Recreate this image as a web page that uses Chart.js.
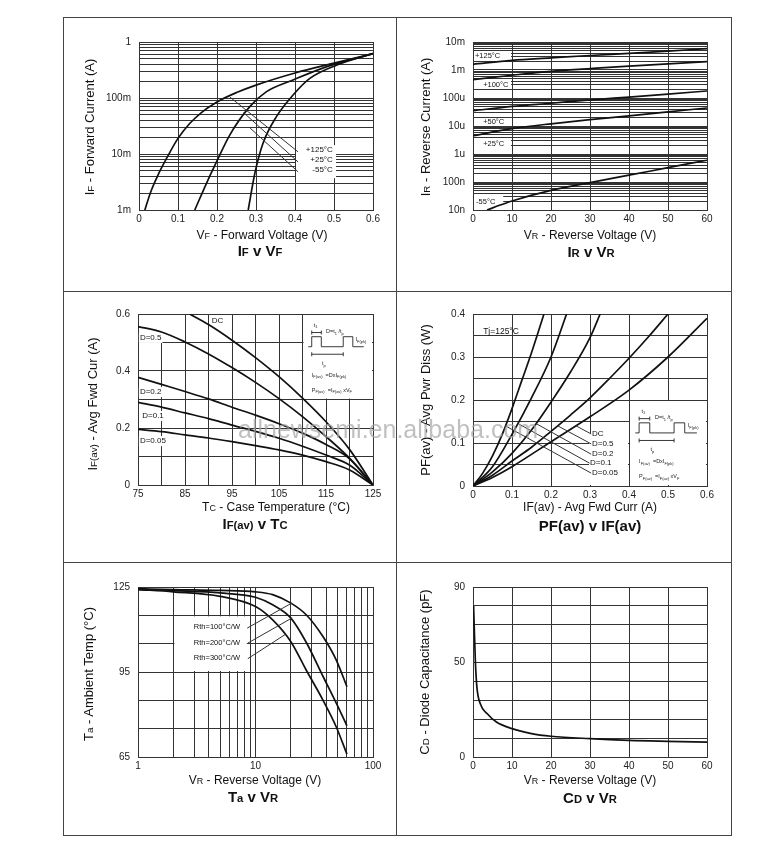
<!DOCTYPE html>
<html>
<head>
<meta charset="utf-8">
<script src="https://cdn.jsdelivr.net/npm/chart.js@4.4.1/dist/chart.umd.min.js"></script>
<style>
  body { margin: 0; background: #fff; font-family: 'Liberation Sans', Arial, sans-serif; color: #111; }
  #page { position: relative; width: 776px; height: 856px; overflow: hidden; }
  .frame { position: absolute; left: 63px; top: 17px; width: 667px; height: 817px; border: 1px solid #444; }
  .hl { position: absolute; left: 63px; width: 669px; height: 1px; background: #444; }
  .vl { position: absolute; top: 17px; width: 1px; height: 819px; background: #444; }
  canvas { position: absolute; }
  .yt, .xt, .cap { position: absolute; white-space: nowrap; line-height: 1; color: #111; }
  .yt { font-size: 13px; transform: translate(-50%, -50%) rotate(-90deg); }
  .xt { font-size: 12px; transform: translate(-50%, -50%); }
  .cap { font-size: 15px; font-weight: bold; transform: translate(-50%, -50%); }
  .s { font-size: 0.75em; }
  .wm { position: absolute; left: 238px; top: 417px; font-size: 25px; line-height: 25px; color: rgba(165,165,165,0.7); white-space: nowrap; }
</style>
</head>
<body>
<div id="page">
  <div class="frame"></div>
  <div class="vl" style="left:396px"></div>
  <div class="hl" style="top:291px"></div>
  <div class="hl" style="top:562px"></div>

  <canvas id="c1"></canvas>
  <canvas id="c2"></canvas>
  <canvas id="c3"></canvas>
  <canvas id="c4"></canvas>
  <canvas id="c5"></canvas>
  <canvas id="c6"></canvas>

  <div class="yt" style="left:89px;top:127px">I<span class="s">F</span> - Forward Current (A)</div>
  <div class="xt" style="left:262px;top:235px">V<span class="s">F</span> - Forward Voltage (V)</div>
  <div class="cap" style="left:260px;top:251px">I<span class="s">F</span> v V<span class="s">F</span></div>

  <div class="yt" style="left:425px;top:127px">I<span class="s">R</span> - Reverse Current (A)</div>
  <div class="xt" style="left:590px;top:235px">V<span class="s">R</span> - Reverse Voltage (V)</div>
  <div class="cap" style="left:591px;top:252px">I<span class="s">R</span> v V<span class="s">R</span></div>

  <div class="yt" style="left:92px;top:404px">I<span class="s">F(av)</span> - Avg Fwd Cur (A)</div>
  <div class="xt" style="left:276px;top:507px">T<span class="s">C</span> - Case Temperature (°C)</div>
  <div class="cap" style="left:255px;top:524px">I<span class="s">F(av)</span> v T<span class="s">C</span></div>

  <div class="yt" style="left:425px;top:400px">PF(av) - Avg Pwr Diss (W)</div>
  <div class="xt" style="left:590px;top:507px">IF(av) - Avg Fwd Curr (A)</div>
  <div class="cap" style="left:590px;top:525px">PF(av) v IF(av)</div>

  <div class="yt" style="left:88px;top:674px">T<span class="s">a</span> - Ambient Temp (°C)</div>
  <div class="xt" style="left:255px;top:780px">V<span class="s">R</span> - Reverse Voltage (V)</div>
  <div class="cap" style="left:253px;top:797px">T<span class="s">a</span> v V<span class="s">R</span></div>

  <div class="yt" style="left:424px;top:672px">C<span class="s">D</span> - Diode Capacitance (pF)</div>
  <div class="xt" style="left:590px;top:780px">V<span class="s">R</span> - Reverse Voltage (V)</div>
  <div class="cap" style="left:590px;top:798px">C<span class="s">D</span> v V<span class="s">R</span></div>

  <div class="wm">allnewsemi.en.alibaba.com</div>
</div>

<script>
// ---- IF v VF (forward current vs forward voltage, 3 temperatures)
const vf125 = [0.015, 0.03, 0.05, 0.075, 0.10, 0.13, 0.16, 0.20, 0.25, 0.30, 0.40, 0.50, 0.60];
const if125 = [0.001, 0.0021, 0.0044, 0.0095, 0.019, 0.035, 0.055, 0.085, 0.125, 0.17, 0.28, 0.42, 0.62];
const vf25 = [0.143, 0.173, 0.199, 0.233, 0.284, 0.327, 0.395, 0.48, 0.60];
const if25 = [0.001, 0.003, 0.0073, 0.022, 0.070, 0.13, 0.21, 0.36, 0.62];
const vfM55 = [0.28, 0.297, 0.318, 0.352, 0.395, 0.438, 0.506, 0.60];
const ifM55 = [0.001, 0.0045, 0.0155, 0.046, 0.113, 0.224, 0.385, 0.62];
const vfTicks = [0, 0.1, 0.2, 0.3, 0.4, 0.5, 0.6];
const vfLabels = ['0', '0.1', '0.2', '0.3', '0.4', '0.5', '0.6'];
const ifTicks = [0.001, 0.01, 0.1, 1];
const ifLabels = ['1m', '10m', '100m', '1'];

// ---- IR v VR (reverse current vs reverse voltage)
const vrIR = [0, 10, 20, 30, 40, 50, 60];
const ir125 = [1.6e-3, 2.2e-3, 2.7e-3, 3.3e-3, 3.9e-3, 4.7e-3, 5.8e-3];
const ir100 = [4.5e-4, 6.5e-4, 9e-4, 1.12e-3, 1.38e-3, 1.65e-3, 2.0e-3];
const ir50 = [3.5e-5, 5e-5, 6.5e-5, 8.5e-5, 1.08e-4, 1.38e-4, 1.78e-4];
const ir25 = [4.5e-6, 8e-6, 1.2e-5, 1.7e-5, 2.3e-5, 3.2e-5, 4.4e-5];
const vrM55 = [3.6, 7, 10, 20, 30, 40, 50, 60];
const irM55 = [1e-8, 1.5e-8, 2.1e-8, 5e-8, 9.5e-8, 1.75e-7, 3.25e-7, 6e-7];
const vr60Ticks = [0, 10, 20, 30, 40, 50, 60];
const vr60Labels = ['0', '10', '20', '30', '40', '50', '60'];
const irTicks = [1e-8, 1e-7, 1e-6, 1e-5, 1e-4, 1e-3, 1e-2];
const irLabels = ['10n', '100n', '1u', '10u', '100u', '1m', '10m'];

// ---- IF(av) v TC (derating)
const tcDC = [86, 90, 95, 100, 105, 110, 115, 120, 125];
const ifavDC = [0.6, 0.563, 0.508, 0.447, 0.38, 0.305, 0.222, 0.125, 0];
const tcD = [75, 80, 85, 90, 95, 100, 105, 110, 115, 120, 125];
const ifavD05 = [0.556, 0.537, 0.502, 0.46, 0.412, 0.36, 0.303, 0.24, 0.17, 0.094, 0];
const ifavD02 = [0.378, 0.353, 0.328, 0.302, 0.273, 0.245, 0.215, 0.182, 0.142, 0.092, 0];
const ifavD01 = [0.29, 0.273, 0.253, 0.233, 0.21, 0.188, 0.164, 0.136, 0.105, 0.07, 0];
const ifavD005 = [0.195, 0.187, 0.176, 0.165, 0.152, 0.138, 0.123, 0.105, 0.082, 0.053, 0];
const tcTicks = [75, 85, 95, 105, 115, 125];
const tcLabels = ['75', '85', '95', '105', '115', '125'];
const ifavTicks = [0, 0.2, 0.4, 0.6];
const ifavLabels = ['0', '0.2', '0.4', '0.6'];

// ---- PF(av) v IF(av) (power dissipation)
const iDC = [0, 0.05, 0.1, 0.2, 0.3, 0.4, 0.5, 0.6];
const pDC = [0, 0.02, 0.045, 0.103, 0.161, 0.223, 0.3, 0.39];
const iD05 = [0, 0.05, 0.1, 0.15, 0.2, 0.25, 0.3, 0.35, 0.4, 0.45, 0.5];
const pD05 = [0, 0.025, 0.058, 0.09, 0.127, 0.165, 0.205, 0.25, 0.297, 0.347, 0.4];
const iD02 = [0, 0.05, 0.1, 0.15, 0.2, 0.25, 0.3, 0.326];
const pD02 = [0, 0.033, 0.076, 0.13, 0.195, 0.265, 0.345, 0.4];
const iD01 = [0, 0.05, 0.1, 0.15, 0.2, 0.24];
const pD01 = [0, 0.045, 0.12, 0.205, 0.3, 0.4];
const iD005 = [0, 0.025, 0.05, 0.075, 0.1, 0.125, 0.15, 0.182];
const pD005 = [0, 0.03, 0.07, 0.12, 0.18, 0.245, 0.31, 0.4];
const pfTicks = [0, 0.1, 0.2, 0.3, 0.4];
const pfLabels = ['0', '0.1', '0.2', '0.3', '0.4'];

// ---- Ta v VR (ambient temperature vs reverse voltage)
const vrTa = [1, 2, 5, 10, 14, 20, 27, 37.5, 48.7, 60];
const ta100 = [124.4, 124.1, 123.8, 123.3, 122.3, 119.3, 115.2, 107.5, 99.2, 89.8];
const ta200 = [124.2, 123.7, 122.9, 121.4, 118.7, 114, 105.5, 93.5, 84, 76];
const ta300 = [124.1, 123.3, 121.7, 118.1, 113.4, 105.7, 95.7, 85.1, 75.6, 66];
const vrLogTicks = [1, 10, 100];
const vrLogLabels = ['1', '10', '100'];
const taTicks = [65, 95, 125];
const taLabels = ['65', '95', '125'];

// ---- CD v VR (capacitance)
const vrCd = [0.15, 0.3, 0.6, 1, 1.9, 3.6, 6, 10, 15, 20, 30, 40, 50, 60];
const cdPf = [80, 70, 51, 37, 28, 23, 18.5, 15, 12.4, 11, 9.7, 8.8, 8.3, 7.9];
const cdTicks = [0, 50, 90];
const cdLabels = ['0', '50', '90'];

const FONT = "'Liberation Sans', Arial, sans-serif";
const GRID = '#333';
const YW = 36, XH = 18;
Chart.defaults.font.family = FONT;

// grid helpers (1..9 per decade for log axes, fixed step for linear ones)
function logGrid(e0, e1) {
  const out = [];
  for (let e = e0; e < e1; e++)
    for (let m = 1; m < 10; m++) out.push(+(m * Math.pow(10, e)).toPrecision(3));
  out.push(+Math.pow(10, e1).toPrecision(3));
  return out;
}
function steps(a, b, d) {
  const out = [], n = Math.round((b - a) / d);
  for (let i = 0; i <= n; i++) out.push(+(a + i * d).toFixed(6));
  return out;
}

function axis(o) {
  return {
    type: o.type || 'linear', min: o.min, max: o.max,
    position: o.y ? 'left' : 'bottom',
    afterBuildTicks: s => { s.ticks = o.grid.map(v => ({ value: v })); },
    afterFit: s => { if (o.y) s.width = YW; else s.height = XH; },
    grid: { color: GRID, lineWidth: 1, drawTicks: false },
    border: { color: GRID, width: 1 },
    ticks: {
      autoSkip: false, maxRotation: 0, minRotation: 0,
      padding: o.y ? 8 : 3, color: '#222', font: { family: FONT, size: 10 },
      callback: v => {
        const i = o.ticks.findIndex(t => t === v || Math.abs(t - v) <= 1e-6 * Math.abs(t));
        return i < 0 ? '' : o.labels[i];
      }
    }
  };
}

function curve(xs, ys) {
  return {
    data: xs.map((x, i) => ({ x, y: ys[i] })),
    showLine: true, pointRadius: 0, borderColor: '#111', borderWidth: 1.7,
    fill: false, cubicInterpolationMode: 'monotone'
  };
}

// small mixed-size text for the pulse insets
function rich(ctx, x, y, parts, size) {
  parts.forEach(([t, sub]) => {
    ctx.font = (sub ? size * 0.72 : size) + 'px ' + FONT;
    ctx.fillText(t, x, y + (sub ? size * 0.3 : 0));
    x += ctx.measureText(t).width;
  });
}

function drawPulse(ctx, r) {
  const X = f => r.x + f * r.w, Y = f => r.y + f * r.h;
  ctx.strokeStyle = '#222'; ctx.fillStyle = '#222'; ctx.lineWidth = 0.9;
  ctx.textAlign = 'left'; ctx.textBaseline = 'alphabetic';
  const wave = [[.07,.38],[.12,.38],[.12,.26],[.26,.26],[.26,.38],[.58,.38],[.58,.26],[.72,.26],[.72,.38],[.88,.38]];
  ctx.beginPath();
  wave.forEach(([a, b], i) => i ? ctx.lineTo(X(a), Y(b)) : ctx.moveTo(X(a), Y(b)));
  ctx.stroke();
  const bracket = (a, b, c) => {
    ctx.beginPath();
    ctx.moveTo(X(a), Y(c)); ctx.lineTo(X(b), Y(c));
    ctx.moveTo(X(a), Y(c) - 2); ctx.lineTo(X(a), Y(c) + 2);
    ctx.moveTo(X(b), Y(c) - 2); ctx.lineTo(X(b), Y(c) + 2);
    ctx.stroke();
  };
  bracket(.12, .26, .21);
  bracket(.12, .58, .47);
  const fs = 5.5;
  rich(ctx, X(.15), Y(.14), [['t'], ['1', 1]], fs);
  rich(ctx, X(.33), Y(.22), [['D=t'], ['1', 1], [' /t'], ['p', 1]], fs);
  rich(ctx, X(.76), Y(.31), [['I'], ['F(pk)', 1]], fs);
  rich(ctx, X(.27), Y(.6), [['t'], ['p', 1]], fs);
  rich(ctx, X(.12), Y(.74), [['I'], ['F(av)', 1], ['  =DxI'], ['F(pk)', 1]], fs);
  rich(ctx, X(.12), Y(.92), [['P'], ['F(av)', 1], ['  =I'], ['F(av)', 1], [' xV'], ['F', 1]], fs);
}

// labels, leader lines and white boxes placed in data units
function notesPlugin(n) {
  const rect = (chart, b) => {
    const px = v => chart.scales.x.getPixelForValue(v), py = v => chart.scales.y.getPixelForValue(v);
    const ins = b.in || [1, 1, 1, 1];
    const x0 = px(b.x[0]) + ins[0], x1 = px(b.x[1]) - ins[2];
    const y0 = py(b.y[1]) + ins[1], y1 = py(b.y[0]) - ins[3];
    return { x: x0, y: y0, w: x1 - x0, h: y1 - y0 };
  };
  return {
    id: 'notes',
    beforeDatasetsDraw(chart) {
      const { ctx } = chart;
      const px = v => chart.scales.x.getPixelForValue(v), py = v => chart.scales.y.getPixelForValue(v);
      ctx.save();
      ctx.fillStyle = '#fff';
      (n.boxes || []).concat(n.insets || []).forEach(b => {
        const r = rect(chart, b);
        ctx.fillRect(r.x, r.y, r.w, r.h);
      });
      (n.labels || []).filter(l => l.bg).forEach(l => {
        ctx.font = (l.size || 8) + 'px ' + FONT;
        const w = ctx.measureText(l.t).width, h = (l.size || 8) + 2;
        const x = l.align === 'right' ? px(l.x) - w : px(l.x);
        ctx.fillRect(x - 1, py(l.y) - h / 2, w + 2, h);
      });
      (n.insets || []).forEach(b => drawPulse(ctx, rect(chart, b)));
      ctx.restore();
    },
    afterDatasetsDraw(chart) {
      const { ctx } = chart;
      const px = v => chart.scales.x.getPixelForValue(v), py = v => chart.scales.y.getPixelForValue(v);
      ctx.save();
      ctx.strokeStyle = '#333'; ctx.lineWidth = 1;
      (n.leaders || []).forEach(([a, b]) => {
        ctx.beginPath();
        ctx.moveTo(px(a[0]), py(a[1]));
        ctx.lineTo(px(b[0]), py(b[1]));
        ctx.stroke();
      });
      ctx.fillStyle = '#111'; ctx.textBaseline = 'middle';
      (n.labels || []).forEach(l => {
        ctx.font = (l.size || 8) + 'px ' + FONT;
        ctx.textAlign = l.align || 'left';
        ctx.fillText(l.t, px(l.x), py(l.y));
      });
      ctx.restore();
    }
  };
}

function panel(id, cell, plot, xAx, yAx, series, notes) {
  const cv = document.getElementById(id);
  const [cx, cy, cw, ch] = cell, [L, T, R, B] = plot;
  cv.width = cw; cv.height = ch;
  cv.style.left = cx + 'px'; cv.style.top = cy + 'px';
  return new Chart(cv, {
    type: 'scatter',
    data: { datasets: series.map(([xs, ys]) => curve(xs, ys)) },
    options: {
      responsive: false, animation: false, events: [],
      layout: { padding: { left: L - cx - YW, top: T - cy, right: cx + cw - R, bottom: cy + ch - B - XH } },
      plugins: { legend: { display: false }, tooltip: { enabled: false } },
      scales: { x: axis(xAx), y: axis(Object.assign({ y: true }, yAx)) }
    },
    plugins: [notesPlugin(notes || {})]
  });
}

// IF v VF
panel('c1', [64, 18, 332, 273], [139, 42, 373, 210],
  { min: 0, max: 0.6, grid: steps(0, 0.6, 0.1), ticks: vfTicks, labels: vfLabels },
  { type: 'logarithmic', min: 0.001, max: 1, grid: logGrid(-3, 0), ticks: ifTicks, labels: ifLabels },
  [[vf125, if125], [vf25, if25], [vfM55, ifM55]],
  {
    boxes: [{ x: [0.4, 0.5], y: [0.0037, 0.0144], in: [1, 0, -2, 0] }],
    leaders: [[[0.233, 0.104], [0.408, 0.0109]], [[0.268, 0.055], [0.408, 0.0072]], [[0.285, 0.029], [0.408, 0.0048]]],
    labels: [
      { t: '+125°C', x: 0.497, y: 0.0118, align: 'right' },
      { t: '+25°C', x: 0.497, y: 0.0078, align: 'right' },
      { t: '-55°C', x: 0.497, y: 0.0052, align: 'right' }
    ]
  });

// IR v VR
panel('c2', [397, 18, 334, 273], [473, 42, 707, 210],
  { min: 0, max: 60, grid: steps(0, 60, 10), ticks: vr60Ticks, labels: vr60Labels },
  { type: 'logarithmic', min: 1e-8, max: 1e-2, grid: logGrid(-8, -2), ticks: irTicks, labels: irLabels },
  [[vrIR, ir125], [vrIR, ir100], [vrIR, ir50], [vrIR, ir25], [vrM55, irM55]],
  {
    boxes: [
      { x: [0, 10], y: [2.09e-3, 4.78e-3] },
      { x: [0, 10], y: [1.93e-4, 4.4e-4] },
      { x: [0, 10], y: [9.2e-6, 2.09e-5] },
      { x: [0, 10], y: [1.64e-6, 3.43e-6] },
      { x: [0, 8], y: [1.18e-8, 3.43e-8] }
    ],
    labels: [
      { t: '+125°C', x: 0.5, y: 3.16e-3, size: 7.5 },
      { t: '+100°C', x: 2.6, y: 2.91e-4, size: 7.5 },
      { t: '+50°C', x: 2.6, y: 1.39e-5, size: 7.5 },
      { t: '+25°C', x: 2.6, y: 2.28e-6, size: 7.5 },
      { t: '-55°C', x: 0.8, y: 1.93e-8, size: 7.5 }
    ]
  });

// IF(av) v TC
panel('c3', [64, 292, 332, 270], [138, 314, 373, 485],
  { min: 75, max: 125, grid: steps(75, 125, 5), ticks: tcTicks, labels: tcLabels },
  { min: 0, max: 0.6, grid: steps(0, 0.6, 0.1), ticks: ifavTicks, labels: ifavLabels },
  [[tcDC, ifavDC], [tcD, ifavD05], [tcD, ifavD02], [tcD, ifavD01], [tcD, ifavD005]],
  {
    boxes: [{ x: [75, 85], y: [0.5, 0.6] }],
    insets: [{ x: [110, 125], y: [0.3, 0.6] }],
    labels: [
      { t: 'DC', x: 90.7, y: 0.575, bg: true },
      { t: 'D=0.5', x: 75.4, y: 0.516, bg: true },
      { t: 'D=0.2', x: 75.4, y: 0.326, bg: true },
      { t: 'D=0.1', x: 75.9, y: 0.242, bg: true },
      { t: 'D=0.05', x: 75.4, y: 0.154, bg: true }
    ]
  });

// PF(av) v IF(av)
panel('c4', [397, 292, 334, 270], [473, 314, 707, 486],
  { min: 0, max: 0.6, grid: steps(0, 0.6, 0.1), ticks: vfTicks, labels: vfLabels },
  { min: 0, max: 0.4, grid: steps(0, 0.4, 0.05), ticks: pfTicks, labels: pfLabels },
  [[iDC, pDC], [iD05, pD05], [iD02, pD02], [iD01, pD01], [iD005, pD005]],
  {
    boxes: [{ x: [0.3, 0.4], y: [0, 0.125], in: [-1, 1, 1, 1] }, { x: [0, 0.1], y: [0.35, 0.4] }],
    insets: [{ x: [0.4, 0.6], y: [0, 0.2] }],
    leaders: [
      [[0.264, 0.140], [0.303, 0.121]],
      [[0.217, 0.140], [0.303, 0.098]],
      [[0.162, 0.145], [0.303, 0.074]],
      [[0.116, 0.145], [0.299, 0.053]],
      [[0.083, 0.140], [0.303, 0.030]]
    ],
    labels: [
      { t: 'Tj=125°C', x: 0.026, y: 0.358, size: 8.5 },
      { t: 'DC', x: 0.305, y: 0.121 },
      { t: 'D=0.5', x: 0.305, y: 0.098 },
      { t: 'D=0.2', x: 0.305, y: 0.074 },
      { t: 'D=0.1', x: 0.300, y: 0.053 },
      { t: 'D=0.05', x: 0.305, y: 0.030 }
    ]
  });

// Ta v VR
panel('c5', [64, 563, 332, 272], [138, 587, 373, 757],
  { type: 'logarithmic', min: 1, max: 100, grid: logGrid(0, 2), ticks: vrLogTicks, labels: vrLogLabels },
  { min: 65, max: 125, grid: steps(65, 125, 10), ticks: taTicks, labels: taLabels },
  [[vrTa, ta100], [vrTa, ta200], [vrTa, ta300]],
  {
    boxes: [{ x: [2, 8.6], y: [95, 115] }],
    leaders: [[[8.5, 110.5], [20.5, 119.4]], [[8.6, 105.2], [20.5, 114.1]], [[8.6, 99.7], [18, 108.3]]],
    labels: [
      { t: 'Rth=100°C/W', x: 7.38, y: 110.9, align: 'right', size: 7.5 },
      { t: 'Rth=200°C/W', x: 7.38, y: 105.2, align: 'right', size: 7.5 },
      { t: 'Rth=300°C/W', x: 7.38, y: 99.9, align: 'right', size: 7.5 }
    ]
  });

// CD v VR
panel('c6', [397, 563, 334, 272], [473, 587, 707, 757],
  { min: 0, max: 60, grid: steps(0, 60, 10), ticks: vr60Ticks, labels: vr60Labels },
  { min: 0, max: 90, grid: steps(0, 90, 10), ticks: cdTicks, labels: cdLabels },
  [[vrCd, cdPf]]);
</script>
</body>
</html>
